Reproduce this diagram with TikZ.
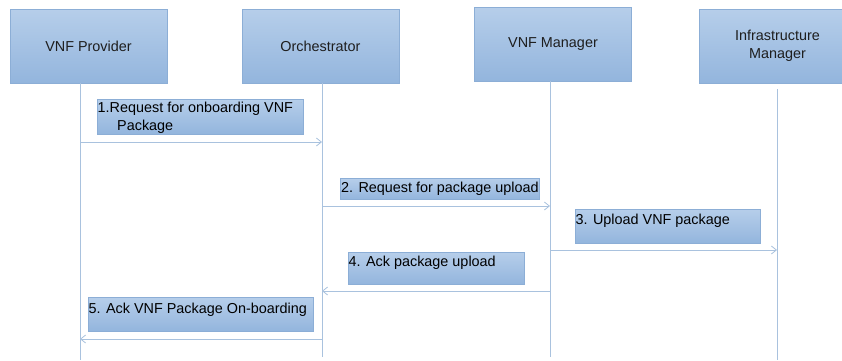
\documentclass[tikz,border=0pt]{standalone}
\usepackage{fontspec}
\setmainfont{Liberation Sans}
\usetikzlibrary{arrows.meta}
\definecolor{boxtop}{HTML}{B6CEEA}
\definecolor{boxbot}{HTML}{93B5DD}
\definecolor{boxedge}{HTML}{8CAED6}
\definecolor{lifecol}{HTML}{A9C2DE}
\definecolor{txt}{HTML}{1E1E1E}
\begin{document}
\begin{tikzpicture}[x=1pt,y=-1pt,
  actor/.style={draw=boxedge, line width=0.8pt, top color=boxtop, bottom color=boxbot,
    minimum width=157pt, minimum height=74pt, inner sep=0pt, align=center, text=txt,
    font=\fontsize{14.4}{17.5}\selectfont},
  msgbox/.style={draw=boxedge, line width=0.6pt, top color=boxtop, bottom color=boxbot,
    inner sep=0pt, anchor=north west},
  msgtext/.style={anchor=base west, inner sep=0pt, text=black, font=\fontsize{14.4}{17}\selectfont},
  life/.style={draw=lifecol, line width=1pt},
  msg/.style={draw=lifecol, line width=1pt,
    -{Straight Barb[length=5pt,width=8pt,line width=0.8pt]}}
]
\useasboundingbox (0,0) rectangle (842,360);
\clip (0,0) rectangle (842,360);
\fill[white] (0,0) rectangle (842,360);

% participants
\node[actor] (prov) at (88.5,46) {VNF Provider};
\node[actor] (orch) at (320.5,46) {Orchestrator};
\node[actor] (vnfm) at (553,44) {VNF Manager};
\node[actor] (vim)  at (777.5,46) {Infrastructure\\Manager};

% lifelines
\coordinate (provTop) at (80,83);   \coordinate (provBot) at (80,360);
\coordinate (orchTop) at (322,83);  \coordinate (orchBot) at (322,357);
\coordinate (vnfmTop) at (550,81);  \coordinate (vnfmBot) at (550,357);
\coordinate (vimTop)  at (777,89);  \coordinate (vimBot)  at (777,360);
\draw[life] (provTop) -- (provBot);
\draw[life] (orchTop) -- (orchBot);
\draw[life] (vnfmTop) -- (vnfmBot);
\draw[life] (vimTop) -- (vimBot);

% message labels
\node[msgbox, minimum width=206pt, minimum height=35pt] (b1) at (97,99) {};
\node[msgtext] (t1a) at (97.5,112) {1.Request for onboarding VNF};
\node[msgtext] (t1b) at (117,130) {Package};

\node[msgbox, minimum width=199pt, minimum height=21pt] (b2) at (340,178) {};
\node[msgtext] (t2) at (341,192) {2. Request for package upload};

\node[msgbox, minimum width=185pt, minimum height=34pt] (b3) at (575,209) {};
\node[msgtext] (t3) at (575.5,224) {3. Upload VNF package};

\node[msgbox, minimum width=176pt, minimum height=32pt] (b4) at (348,252) {};
\node[msgtext] (t4) at (348.5,266) {4. Ack package upload};

\node[msgbox, minimum width=225pt, minimum height=34pt] (b5) at (88,297) {};
\node[msgtext] (t5) at (88.5,313) {5. Ack VNF Package On-boarding};

% messages
\coordinate (m1s) at (80,142);  \coordinate (m1e) at (322,142);
\coordinate (m2s) at (322,206); \coordinate (m2e) at (550,206);
\coordinate (m3s) at (550,250); \coordinate (m3e) at (777,250);
\coordinate (m4s) at (550,291); \coordinate (m4e) at (322,291);
\coordinate (m5s) at (322,339); \coordinate (m5e) at (80,339);
\draw[msg] (m1s) -- (m1e);
\draw[msg] (m2s) -- (m2e);
\draw[msg] (m3s) -- (m3e);
\draw[msg] (m4s) -- (m4e);
\draw[msg] (m5s) -- (m5e);
\end{tikzpicture}
\end{document}
